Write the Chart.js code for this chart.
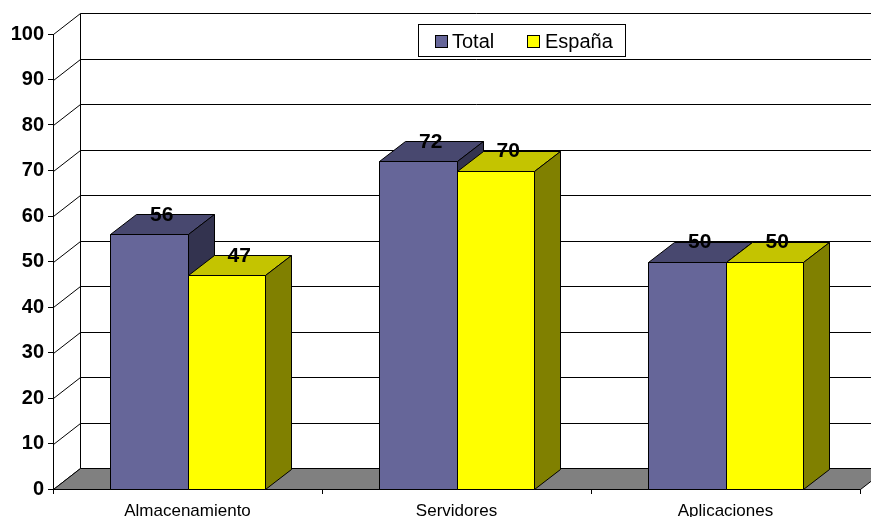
<!DOCTYPE html>
<html>
<head>
<meta charset="utf-8">
<script src="https://cdn.jsdelivr.net/npm/chart.js@4/dist/chart.umd.min.js"></script>
<style>
html,body{margin:0;padding:0;background:#fff;}
canvas{display:block;}
</style>
</head>
<body>
<canvas id="c" width="871" height="517"></canvas>
<script>
const categories = ['Almacenamiento', 'Servidores', 'Aplicaciones'];
const totalValues = [56, 72, 50];
const espanaValues = [47, 70, 50];
const seriesNames = ['Total', 'España'];
const yMin = 0, yMax = 100, yStep = 10;

const FONT = '"Liberation Sans", Arial, sans-serif';
const frontColors = ['#666699', '#FFFF00'];
const topColors = ['#48486f', '#c4c400'];
const sideColors = ['#33334f', '#808000'];
const WALL_DX = 27, WALL_DY = -21, BAR_DX = 26, BAR_DY = -20;

function poly(ctx, pts, fill) {
  ctx.beginPath();
  ctx.moveTo(pts[0][0], pts[0][1]);
  for (let i = 1; i < pts.length; i++) ctx.lineTo(pts[i][0], pts[i][1]);
  ctx.closePath();
  if (fill) { ctx.fillStyle = fill; ctx.fill(); }
  ctx.stroke();
}

const threeD = {
  id: 'threeD',
  beforeDatasetsDraw(chart) {
    const ctx = chart.ctx;
    const a = chart.chartArea;
    const ys = chart.scales.y;
    ctx.save();
    ctx.strokeStyle = '#000';
    ctx.lineWidth = 1;
    const L = Math.round(a.left) + 0.5;
    ys.ticks.forEach(t => {
      const py = Math.round(ys.getPixelForValue(t.value)) + 0.5;
      ctx.beginPath();
      ctx.moveTo(L, py);
      ctx.lineTo(L + WALL_DX, py + WALL_DY);
      ctx.lineTo(chart.width + 40, py + WALL_DY);
      ctx.stroke();
    });
    const yTop = Math.round(ys.getPixelForValue(yMax)) + 0.5;
    const y0 = Math.round(ys.getPixelForValue(yMin)) + 0.5;
    ctx.beginPath();
    ctx.moveTo(L + WALL_DX, yTop + WALL_DY);
    ctx.lineTo(L + WALL_DX, y0 + WALL_DY);
    ctx.stroke();
    const R = Math.round(a.right) + 0.5;
    poly(ctx, [[L, y0], [R, y0], [R + WALL_DX, y0 + WALL_DY], [L + WALL_DX, y0 + WALL_DY]], '#808080');
    const metas = chart.data.datasets.map((d, i) => chart.getDatasetMeta(i));
    const labelsToDraw = [];
    for (let c = 0; c < categories.length; c++) {
      metas.forEach((meta, d) => {
        const el = meta.data[c];
        const p = el.getProps(['x', 'y', 'base', 'width'], true);
        const l = Math.round(p.x - p.width / 2) + 0.5;
        const r = Math.round(p.x + p.width / 2) + 0.5;
        const top = Math.round(p.y) + 0.5;
        const base = Math.round(p.base) + 0.5;
        poly(ctx, [[l, top], [r, top], [r, base], [l, base]], frontColors[d]);
        poly(ctx, [[l, top], [r, top], [r + BAR_DX, top + BAR_DY], [l + BAR_DX, top + BAR_DY]], topColors[d]);
        poly(ctx, [[r, top], [r + BAR_DX, top + BAR_DY], [r + BAR_DX, base + BAR_DY], [r, base]], sideColors[d]);
        labelsToDraw.push({x: p.x + BAR_DX / 2, y: p.y + BAR_DY + 1, v: chart.data.datasets[d].data[c]});
      });
    }
    ctx.fillStyle = '#000';
    ctx.font = 'bold 21px ' + FONT;
    ctx.textAlign = 'center';
    ctx.textBaseline = 'middle';
    labelsToDraw.forEach(o => ctx.fillText(String(o.v), o.x, o.y));
    const lx = 418.5, ly = 24.5, lw = 207, lh = 32;
    ctx.fillStyle = '#fff';
    ctx.fillRect(lx, ly, lw, lh);
    ctx.strokeRect(lx, ly, lw, lh);
    ctx.font = '20px ' + FONT;
    ctx.textAlign = 'left';
    const items = [{sx: 435.5, tx: 452}, {sx: 527.5, tx: 545}];
    items.forEach((it, i) => {
      ctx.fillStyle = frontColors[i];
      ctx.fillRect(it.sx, 35.5, 12, 12);
      ctx.strokeRect(it.sx, 35.5, 12, 12);
      ctx.fillStyle = '#000';
      ctx.fillText(chart.data.datasets[i].label, it.tx, 42);
    });
    ctx.restore();
    return false;
  }
};

new Chart(document.getElementById('c'), {
  type: 'bar',
  data: {
    labels: categories,
    datasets: [
      {label: seriesNames[0], data: totalValues, backgroundColor: frontColors[0]},
      {label: seriesNames[1], data: espanaValues, backgroundColor: frontColors[1]}
    ]
  },
  options: {
    responsive: false,
    animation: false,
    devicePixelRatio: 1,
    layout: {padding: {top: 34, right: 11, left: 0, bottom: 0}},
    datasets: {bar: {categoryPercentage: 0.576, barPercentage: 1}},
    plugins: {legend: {display: false}, tooltip: {enabled: false}},
    scales: {
      x: {
        afterFit(s) { s.height = 28; },
        grid: {offset: true, drawOnChartArea: false, drawTicks: true, tickLength: 5, color: '#000'},
        border: {display: true, color: '#000'},
        ticks: {font: {family: FONT, size: 17}, color: '#000', padding: 7, maxRotation: 0}
      },
      y: {
        min: yMin, max: yMax,
        afterFit(s) { s.width = 53; },
        grid: {drawOnChartArea: false, drawTicks: true, tickLength: 5, color: '#000'},
        border: {display: true, color: '#000'},
        ticks: {stepSize: yStep, font: {family: FONT, size: 20, weight: 'bold'}, color: '#000', padding: 4}
      }
    }
  },
  plugins: [threeD]
});
</script>
</body>
</html>
